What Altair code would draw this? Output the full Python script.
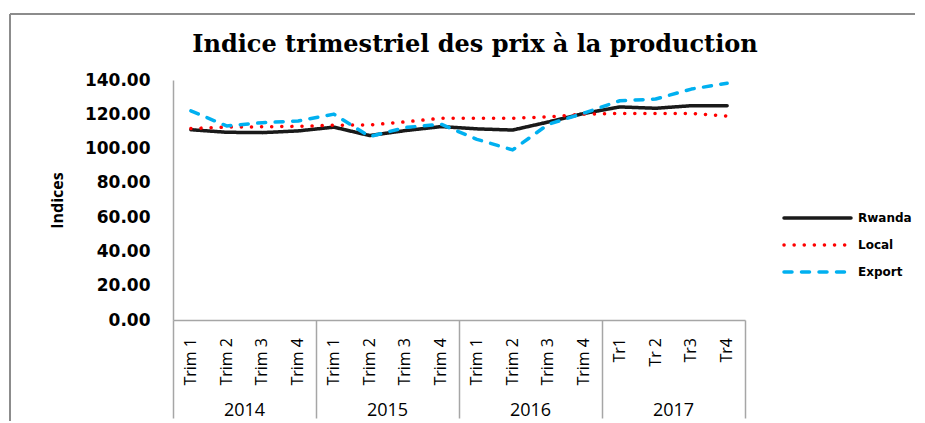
import altair as alt
import pandas as pd

# ---- data ----
quarters = ["Trim 1", "Trim 2", "Trim 3", "Trim 4",
            "Trim 1", "Trim 2", "Trim 3", "Trim 4",
            "Trim 1", "Trim 2", "Trim 3", "Trim 4",
            "Tr1", "Tr 2", "Tr3", "Tr4"]
years = ["2014", "2015", "2016", "2017"]
series_names = ["Rwanda", "Local", "Export"]
rwanda = [111.0, 109.5, 109.3, 110.3, 112.5, 107.6, 110.5, 112.8,
          111.5, 110.8, 115.5, 120.5, 124.3, 123.5, 125.0, 125.0]
local = [111.7, 112.5, 112.7, 113.0, 113.6, 113.8, 115.6, 117.7,
         117.7, 117.7, 118.5, 120.1, 120.5, 120.5, 120.5, 119.0]
export = [122.0, 113.2, 115.1, 116.1, 120.1, 107.0, 112.3, 114.2,
          105.4, 99.2, 114.2, 120.7, 127.9, 128.9, 134.7, 138.1]
y_ticks = [0, 20, 40, 60, 80, 100, 120, 140]
title_text = "Indice trimestriel des prix à la production"
y_title = "Indices"

colors = ["#1a1a1a", "#FF0000", "#00B0F0"]
dashes = [[1, 0], [0.1, 10], [8, 9.5]]
GRAY = "#a6a6a6"

# ---- tables ----
rows = []
for name, vals in zip(series_names, [rwanda, local, export]):
    for i, v in enumerate(vals):
        rows.append({"pos": i + 0.5, "value": v, "series": name})
df = pd.DataFrame(rows)
qdf = pd.DataFrame({"pos": [i + 0.5 for i in range(len(quarters))], "label": quarters})
ydf = pd.DataFrame({"pos": [4 * i + 2 for i in range(len(years))], "label": years})
legdf = pd.DataFrame({"series": series_names})
one = pd.DataFrame({"k": [0]})

color_scale = alt.Scale(domain=series_names, range=colors)
dash_scale = alt.Scale(domain=series_names, range=dashes)
xscale = alt.Scale(domain=[0, 16], nice=False, zero=False)

lines = alt.Chart(df).mark_line(strokeWidth=3.5, strokeCap="round", strokeJoin="round").encode(
    x=alt.X("pos:Q", scale=xscale,
            axis=alt.Axis(values=[0, 4, 8, 12, 16], tickSize=98, tickColor=GRAY, tickWidth=1.5,
                          labels=False, grid=False, title=None, domainColor=GRAY, domainWidth=1.5)),
    y=alt.Y("value:Q", scale=alt.Scale(domain=[0, 140], nice=False),
            axis=alt.Axis(values=y_ticks, format=".2f", ticks=False, tickSize=0, grid=False,
                          labelPadding=23, labelFont="DejaVu Sans", labelFontWeight="bold",
                          labelFontSize=17, labelColor="#000000",
                          domainColor=GRAY, domainWidth=1.5,
                          title=y_title, titleFont="Open Sans", titleFontSize=16,
                          titleFontWeight="bold", titleColor="#000000",
                          titleX=-116, titleY=120, titleAngle=270, titleAlign="center",
                          titleBaseline="middle")),
    color=alt.Color("series:N", scale=color_scale, legend=None),
    strokeDash=alt.StrokeDash("series:N", scale=dash_scale, legend=None),
    detail="series:N",
)

qlabels = alt.Chart(qdf).mark_text(angle=270, align="right", baseline="middle",
                                   font="Open Sans", fontSize=16, color="#000000").encode(
    x=alt.X("pos:Q", scale=xscale), y=alt.value(258), text="label:N")

ylabels = alt.Chart(ydf).mark_text(align="center", baseline="alphabetic",
                                   font="Open Sans", fontSize=18, color="#000000").encode(
    x=alt.X("pos:Q", scale=xscale), y=alt.value(336), text="label:N")

frame_top = alt.Chart(one).mark_rule(color="#8c8c8c", strokeWidth=2).encode(
    x=alt.value(-163), x2=alt.value(800), y=alt.value(-66))
frame_left = alt.Chart(one).mark_rule(color="#8c8c8c", strokeWidth=2).encode(
    x=alt.value(-163), y=alt.value(-66), y2=alt.value(400))

title = alt.Chart(pd.DataFrame({"t": [title_text]})).mark_text(
    align="center", baseline="alphabetic", font="DejaVu Serif", fontWeight="bold",
    fontSize=24, color="#000000").encode(x=alt.value(302), y=alt.value(-28), text="t:N")

leg_y = alt.Y("series:N", scale=alt.Scale(type="point", domain=series_names, range=[138, 192], padding=0),
              axis=None)
leg_lines = alt.Chart(legdf).mark_rule(strokeWidth=3.5, strokeCap="round").encode(
    x=alt.value(611), x2=alt.value(678), y=leg_y,
    color=alt.Color("series:N", scale=color_scale, legend=None),
    strokeDash=alt.StrokeDash("series:N", scale=dash_scale, legend=None))
leg_text = alt.Chart(legdf).mark_text(align="left", baseline="middle", font="DejaVu Sans",
                                      fontWeight="bold", fontSize=12, color="#000000").encode(
    x=alt.value(685), y=leg_y, text="series:N")

chart = alt.layer(frame_top, frame_left, title, lines, qlabels, ylabels, leg_lines, leg_text).resolve_scale(
    y="independent"
).properties(
    width=572, height=240,
    autosize=alt.AutoSizeParams(type="none"),
    padding={"left": 165, "top": 72, "right": 170, "bottom": 101},
    background="white",
).configure_view(stroke=None)

chart.save("out.html", embed_options={"renderer": "svg", "actions": False})
